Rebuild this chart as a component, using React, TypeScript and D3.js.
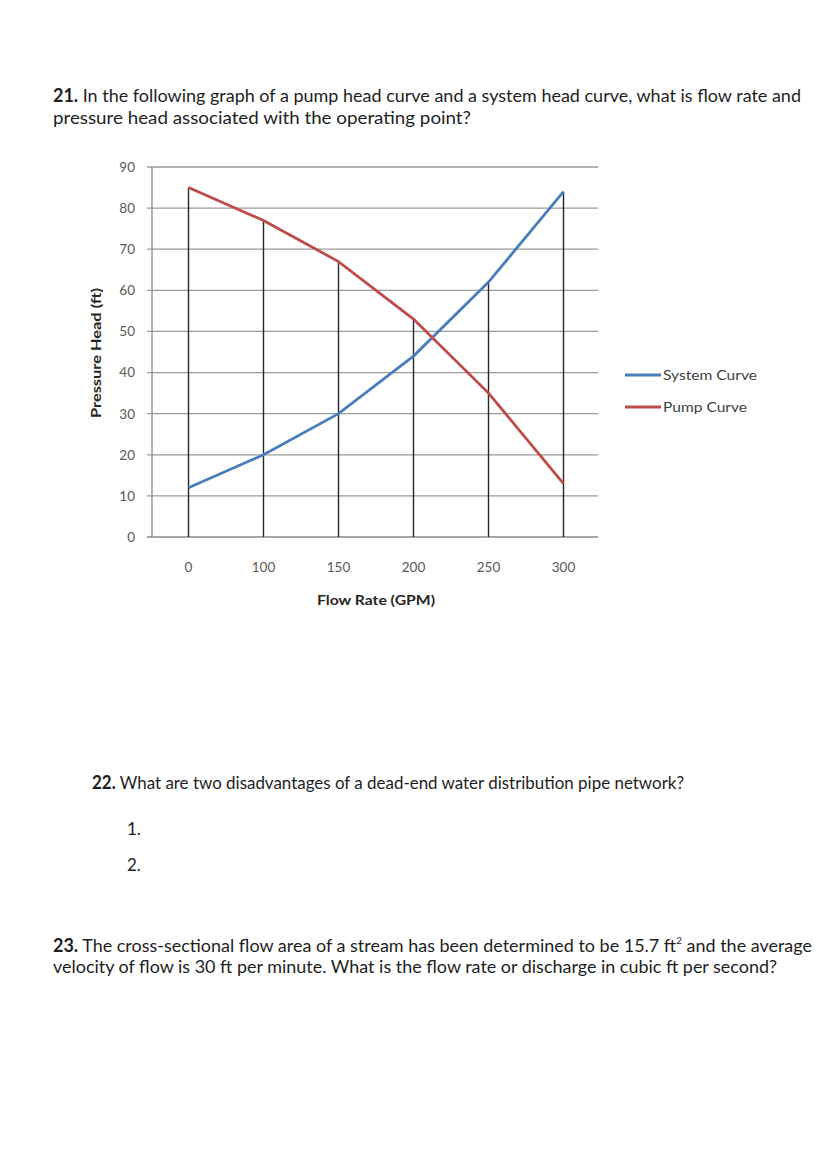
import React from "react";
import * as d3 from "d3";

const categories = ["0", "100", "150", "200", "250", "300"];
const systemCurve = [12, 20, 30, 44, 62, 84];
const pumpCurve = [85, 77, 67, 53, 35, 13];
const yTicks = [0, 10, 20, 30, 40, 50, 60, 70, 80, 90];
const seriesNames = ["System Curve", "Pump Curve"];
const seriesColors = ["#4a7ebb", "#be4b48"];

const FONT = "Lato, 'Open Sans', sans-serif";

export default function App() {
  const x = d3.scaleBand<string>().domain(categories).range([151, 601]);
  const cx = (c: string) => (x(c) as number) + x.bandwidth() / 2;
  const y = d3.scaleLinear().domain([0, 90]).range([537, 167]);

  const line = d3
    .line<number>()
    .x((_, i) => cx(categories[i]))
    .y((d) => y(d));

  const series = [systemCurve, pumpCurve];

  return (
    <svg
      width={828}
      height={1160}
      style={{ position: "absolute", left: 0, top: 0, background: "#fff" }}
      fontFamily={FONT}
    >
      <rect width={828} height={1160} fill="#fff" />

      {/* Question 21 */}
      <text x={53} y={102} fontSize={18} fill="#1e1e1e" textLength={748} lengthAdjust="spacingAndGlyphs">
        <tspan fontWeight="bold">21.</tspan> In the following graph of a pump head curve and a system head curve, what is flow rate and
      </text>
      <text x={53} y={124} fontSize={18} fill="#1e1e1e" textLength={418} lengthAdjust="spacingAndGlyphs">
        pressure head associated with the operating point?
      </text>

      {/* gridlines */}
      <g>
        {yTicks.map((t) => (
          <line key={t} x1={147} x2={598} y1={y(t)} y2={y(t)} stroke={t === 0 ? "#8a8a8a" : "#9a9a9a"} strokeWidth={1.3} />
        ))}
        <line x1={152} x2={152} y1={y(90)} y2={y(0)} stroke="#8a8a8a" strokeWidth={1.3} />
      </g>

      {/* y tick labels */}
      <g>
        {yTicks.map((t) => (
          <text key={t} x={135} y={y(t)} dy="0.36em" textAnchor="end" fontSize={13.5} fill="#595959">
            {t}
          </text>
        ))}
      </g>

      {/* x tick labels */}
      <g>
        {categories.map((c) => (
          <text key={c} x={cx(c)} y={572} textAnchor="middle" fontSize={13.5} fill="#595959">
            {c}
          </text>
        ))}
      </g>

      {/* drop lines */}
      <g>
        {categories.map((c, i) => (
          <line
            key={c}
            x1={cx(c)}
            x2={cx(c)}
            y1={y(Math.max(systemCurve[i], pumpCurve[i]))}
            y2={y(0)}
            stroke="#262626"
            strokeWidth={1.4}
          />
        ))}
      </g>

      {/* series */}
      <g>
        {series.map((s, k) => (
          <path key={k} d={line(s) as string} fill="none" stroke={seriesColors[k]} strokeWidth={2.8} />
        ))}
      </g>

      {/* axis titles */}
      <text x={376} y={605} textAnchor="middle" fontSize={13} fontWeight="bold" fill="#262626" textLength={118} lengthAdjust="spacingAndGlyphs">
        Flow Rate (GPM)
      </text>
      <text
        transform={`translate(101,353) rotate(-90)`}
        textAnchor="middle"
        fontSize={13}
        fontWeight="bold"
        fill="#262626"
        textLength={130}
        lengthAdjust="spacingAndGlyphs"
      >
        Pressure Head (ft)
      </text>

      {/* legend */}
      <g>
        {seriesNames.map((n, k) => (
          <g key={n}>
            <line x1={625} x2={661} y1={375 + k * 32} y2={375 + k * 32} stroke={seriesColors[k]} strokeWidth={2.8} />
            <text x={663} y={375 + k * 32} dy="0.36em" fontSize={13.5} fill="#404040" textLength={k === 0 ? 94 : 84} lengthAdjust="spacingAndGlyphs">
              {n}
            </text>
          </g>
        ))}
      </g>

      {/* Question 22 */}
      <text x={92} y={789} fontSize={18} fill="#1e1e1e" textLength={592} lengthAdjust="spacingAndGlyphs">
        <tspan fontWeight="bold">22.</tspan> What are two disadvantages of a dead-end water distribution pipe network?
      </text>
      <text x={127} y={835} fontSize={17} fill="#1e1e1e">1.</text>
      <text x={127} y={871} fontSize={17} fill="#1e1e1e">2.</text>

      {/* Question 23 */}
      <text x={53} y={952} fontSize={18} fill="#1e1e1e" textLength={759} lengthAdjust="spacingAndGlyphs">
        <tspan fontWeight="bold">23.</tspan> The cross-sectional flow area of a stream has been determined to be 15.7 ft
        <tspan fontSize={10} dy={-8}>2</tspan>
        <tspan dy={8}> and the average</tspan>
      </text>
      <text x={53} y={973} fontSize={18} fill="#1e1e1e" textLength={724} lengthAdjust="spacingAndGlyphs">
        velocity of flow is 30 ft per minute. What is the flow rate or discharge in cubic ft per second?
      </text>
    </svg>
  );
}
